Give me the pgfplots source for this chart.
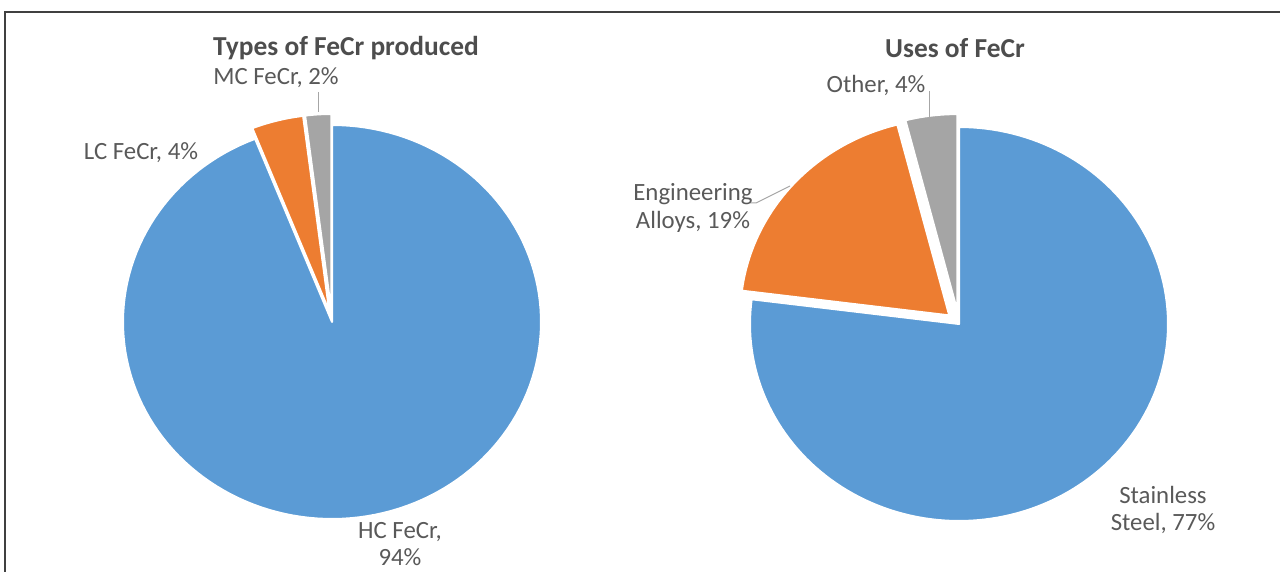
\documentclass[border=0pt]{standalone}
\usepackage{pgfplots}
\pgfplotsset{compat=1.18}
\usepackage{fontspec}
\setmainfont{Carlito}
\definecolor{pblue}{HTML}{5B9BD5}
\definecolor{porange}{HTML}{ED7D31}
\definecolor{pgrey}{HTML}{A5A5A5}
\definecolor{ptext}{HTML}{595959}
\definecolor{ptitle}{HTML}{4D4D4D}
\definecolor{plead}{HTML}{A6A6A6}
% slice: cx cy cumulative-start value colour explode(px)
\newcommand\slice[6]{%
  \pgfmathsetmacro\aS{90-3.6*(#3+#4)}%
  \pgfmathsetmacro\aE{90-3.6*(#3)}%
  \pgfmathsetmacro\aM{90-3.6*(#3+#4/2)}%
  \pgfmathsetmacro\ox{#1+#6*cos(\aM)}%
  \pgfmathsetmacro\oy{#2+#6*sin(\aM)}%
  \edef\doslice{\noexpand\addplot[fill=#5, draw=white, line width=1pt, line join=round,
     domain=\aS:\aE, samples=150, variable=\noexpand\t]
     ({\ox+209*cos(\noexpand\t)},{\oy+197*sin(\noexpand\t)}) -- (axis cs:\ox,\oy) -- cycle;}%
  \doslice
}
\tikzset{lbl/.style={font=\fontsize{12.4}{13.6}\selectfont\color{ptext}, text=ptext},
  ttl/.style={font=\fontsize{13.7}{16}\selectfont\bfseries\color{ptitle}, text=ptitle}}
\begin{document}
\begin{tikzpicture}
\begin{axis}[
  at={(0,0)}, anchor=south west,
  width=640pt, height=286pt, scale only axis,
  xmin=0, xmax=1280, ymin=0, ymax=572,
  hide axis, clip=false,
]
% Types of FeCr produced: HC 94, LC 4, MC 2
\slice{332}{250}{0}{94}{pblue}{0}
\slice{332}{250}{94}{4}{porange}{11}
\slice{332}{250}{98}{2}{pgrey}{11}
% Uses of FeCr: Stainless Steel 77, Engineering Alloys 19, Other 4
\slice{959}{248}{0}{77}{pblue}{0}
\slice{959}{248}{77}{19}{porange}{13}
\slice{959}{248}{96}{4}{pgrey}{13}

% titles
\node[ttl] at (axis cs:346,524) {Types of FeCr produced};
\node[ttl] at (axis cs:955,524) {Uses of FeCr};

% leader lines
\draw[plead, line width=0.5pt] (axis cs:318,480) -- (axis cs:318,460);
\draw[plead, line width=0.5pt] (axis cs:929,481) -- (axis cs:929,454);
\draw[plead, line width=0.5pt] (axis cs:750,369) -- (axis cs:756,369) -- (axis cs:790,386);

% data labels
\node[lbl] at (axis cs:276,494) {MC FeCr, 2\%};
\node[lbl] at (axis cs:141,419) {LC FeCr, 4\%};
\node[lbl, align=center] at (axis cs:400,28) {HC FeCr,\\94\%};
\node[lbl] at (axis cs:876,487) {Other, 4\%};
\node[lbl, align=center] at (axis cs:693,364) {Engineering\\Alloys, 19\%};
\node[lbl, align=center] at (axis cs:1163,62) {Stainless\\Steel, 77\%};

% frame
\draw[color=black!75, line width=1.4pt] (axis cs:5,-20) -- (axis cs:5,560) -- (axis cs:1300,560);
\end{axis}
\pgfresetboundingbox
\path[use as bounding box] (0,0) rectangle (640pt,286pt);
\end{tikzpicture}
\end{document}
